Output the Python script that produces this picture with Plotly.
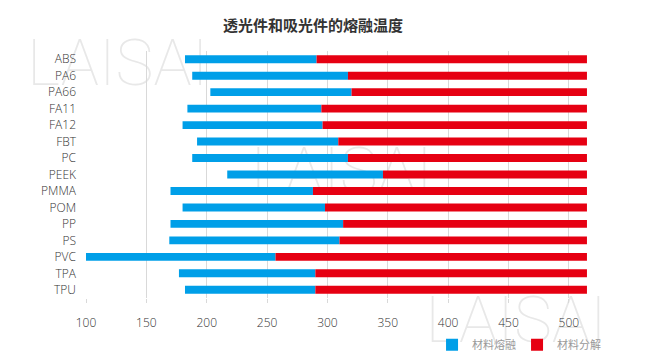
import plotly.graph_objects as go

materials = ["ABS", "PA6", "PA66", "FA11", "FA12", "FBT", "PC", "PEEK",
             "PMMA", "POM", "PP", "PS", "PVC", "TPA", "TPU"]
melt_start = [182, 188, 203, 184, 180, 192, 188, 217, 170, 180, 170, 169, 100, 177, 182]
melt_end = [291, 317, 320, 295, 296, 309, 317, 346, 288, 298, 313, 310, 257, 290, 290]
decomp_end = [515] * len(materials)

series_names = ["材料熔融", "材料分解"]
title_text = "透光件和吸光件的熔融温度"
x_ticks = [100, 150, 200, 250, 300, 350, 400, 450, 500]

BLUE = "#009FE8"
RED = "#E60012"

OFF = 8  # page body margin
W, H = 650 - OFF, 363 - OFF
# plot area in screen pixels
SL, SR, ST, SB = 86.3, 592.8, 50.5, 298.5
L, T = SL - OFF, ST - OFF
R, B = W - (SR - OFF), H - (SB - OFF)
PW, PH = W - L - R, H - T - B


def px(x):
    return (x - SL) / PW


def py(y):
    return 1 - (y - ST) / PH


fig = go.Figure()
fig.add_trace(go.Bar(
    y=materials, x=[e - s for s, e in zip(melt_start, melt_end)], base=melt_start,
    orientation="h", name=series_names[0], marker=dict(color=BLUE, line=dict(width=0)),
    width=0.48,
))
fig.add_trace(go.Bar(
    y=materials, x=[d - e for e, d in zip(melt_end, decomp_end)], base=melt_end,
    orientation="h", name=series_names[1], marker=dict(color=RED, line=dict(width=0)),
    width=0.48,
))

shapes = []
for cx, cy in [(118, 58), (342, 166), (516, 316)]:
    shapes.append(dict(
        type="rect", xref="paper", yref="paper",
        x0=px(cx - 90), x1=px(cx + 90), y0=py(cy + 30), y1=py(cy - 30),
        line=dict(width=0), fillcolor="rgba(0,0,0,0)", layer="below",
        label=dict(text="LAISAI", textposition="middle center",
                   font=dict(family="Roboto", size=64, color="#e8e8e8", weight=100)),
    ))

fig.update_layout(
    width=W, height=H,
    margin=dict(l=L, r=R, t=T, b=B, pad=0, autoexpand=False),
    paper_bgcolor="white", plot_bgcolor="rgba(0,0,0,0)",
    barmode="overlay",
    showlegend=True,
    title=dict(text="<b>" + title_text + "</b>", x=px(313), xref="paper", xanchor="center",
               y=1 - (26 - OFF) / H, yanchor="middle",
               font=dict(family="Noto Sans CJK SC", size=15, color="#333333")),
    font=dict(family="Open Sans, Noto Sans CJK SC", size=12, color="#333333"),
    xaxis=dict(range=[100, 520], tickvals=x_ticks, showgrid=True, gridcolor="#d9d9d9",
               gridwidth=1, zeroline=False, showline=False, ticks="outside", ticklen=4,
               tickcolor="#d9d9d9", ticklabelstandoff=10, automargin=False,
               tickfont=dict(family="Open Sans", size=12, color="#333333", weight=300)),
    yaxis=dict(autorange="reversed", showgrid=False, zeroline=False, showline=False,
               ticks="", ticklabelstandoff=9, automargin=False,
               tickfont=dict(family="Open Sans", size=12, color="#333333", weight=300)),
    legend=dict(orientation="h", x=px(432), y=py(331), xanchor="left", yanchor="top",
                font=dict(family="Noto Sans CJK SC", size=11, color="#999999"),
                bgcolor="rgba(0,0,0,0)", traceorder="normal", itemwidth=30,
                entrywidth=40, entrywidthmode="pixels"),
    shapes=shapes,
)

fig.write_html("out.html")
